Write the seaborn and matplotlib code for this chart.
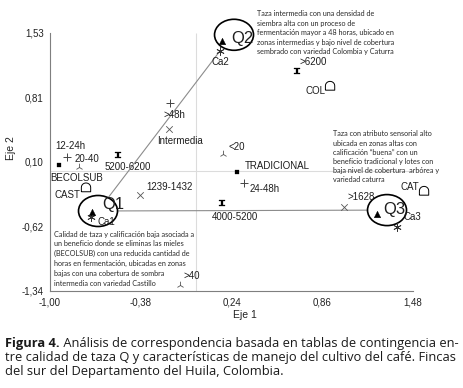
import numpy as np
import pandas as pd
import matplotlib
matplotlib.use("Agg")
import matplotlib.pyplot as plt
from matplotlib.path import Path
from matplotlib.patches import Ellipse
import seaborn as sns

# puntos del analisis de correspondencia
etiquetas = ["Q1", "Q2", "Q3", "Ca1", "Ca2", "Ca3",
             ">6200", "5200-6200", "4000-5200",
             "12-24h", ">48h", "24-48h",
             "Intermedia", "1239-1432", ">1628",
             "20-40", "<20", ">40",
             "BECOLSUB", "TRADICIONAL",
             "COL", "CAST", "CAT"]
eje1 = [-0.713, 0.175, 1.234, -0.72, 0.161, 1.37,
        0.687, -0.535, 0.175,
        -0.884, -0.18, 0.325,
        -0.187, -0.385, 1.008,
        -0.80, 0.182, -0.112,
        -0.94, 0.277,
        0.913, -0.754, 1.555]
eje2 = [-0.46, 1.44, -0.48, -0.52, 1.33, -0.63,
        1.107, 0.17, -0.36,
        0.15, 0.75, -0.14,
        0.46, -0.27, -0.406,
        0.04, 0.18, -1.27,
        0.06, -0.016,
        0.94, -0.19, -0.228]
tipo = ["calidad"] * 3 + ["altitud"] * 3 + ["densidad"] * 3 + ["fermentacion"] * 3 + \
       ["cobertura"] * 3 + ["edad"] * 3 + ["beneficio"] * 2 + ["variedad"] * 3

# grupos encerrados
grupos = ["Q1", "Q2", "Q3"]
grupo_x = [-0.672, 0.257, 1.302]
grupo_y = [-0.45, 1.51, -0.44]

xticks = [-1.00, -0.38, 0.24, 0.86, 1.48]
yticks = [-1.34, -0.62, 0.10, 0.81, 1.53]

notas = [
    ["Taza intermedia con una densidad de", "siembra alta con un proceso de",
     "fermentación mayor a 48 horas, ubicado en", "zonas intermedias y bajo nivel de cobertura",
     "sembrado con variedad Colombia y Caturra"],
    ["Taza con atributo sensorial alto", "ubicada en zonas altas con",
     "calificación “buena” con un", "beneficio tradicional y lotes con",
     "baja nivel de cobertura  arbórea y", "variedad caturra"],
    ["Calidad de taza y calificación baja asociada a", "un beneficio donde se eliminas las mieles",
     "(BECOLSUB) con una reducida cantidad de", "horas en fermentación, ubicadas en zonas",
     "bajas con una cobertura de sombra", "intermedia con variedad Castillo"],
]

df = pd.DataFrame({"etiqueta": etiquetas, "x": eje1, "y": eje2, "tipo": tipo})

sns.set_style("white")
plt.rcParams["font.family"] = ["Liberation Sans", "DejaVu Sans"]

# marcadores
reloj = Path([(-1, 1), (1, 1), (1, 0.6), (0.3, 0.6), (0.3, -0.6), (1, -0.6), (1, -1),
              (-1, -1), (-1, -0.6), (-0.3, -0.6), (-0.3, 0.6), (-1, 0.6), (-1, 1)])
ang = np.linspace(0, np.pi, 12)
casa = Path([(-0.9, -0.8), (0.9, -0.8)] + [(0.9 * np.cos(a), 0.05 + 0.85 * np.sin(a)) for a in ang]
            + [(-0.9, -0.8)])

estilos = {
    "calidad": dict(marker="^", s=22, color="black", edgecolor="black", linewidth=0.3),
    "altitud": dict(marker=(6, 2, 0), s=30, color="#333333", linewidth=0.6),
    "densidad": dict(marker=reloj, s=22, color="black", edgecolor="black", linewidth=0.2),
    "fermentacion": dict(marker="+", s=30, color="#444444", linewidth=0.7),
    "cobertura": dict(marker="x", s=22, color="#555555", linewidth=0.6),
    "edad": dict(marker="2", s=30, color="#555555", linewidth=0.6),
    "beneficio": dict(marker="s", s=12, color="black", edgecolor="black", linewidth=0.2),
    "variedad": dict(marker=casa, s=45, facecolor="none", edgecolor="black", linewidth=0.7),
}

# desplazamiento de cada etiqueta (pixeles) y alineacion
pos_etq = {
    "Q1": (10, 7, "left", 12), "Q2": (9, 3, "left", 12), "Q3": (6, 4, "left", 12),
    "Ca1": (7, -5, "left", 7), "Ca2": (-8, -11, "left", 7), "Ca3": (7, 10, "left", 7),
    ">6200": (3, 9, "left", 7), "5200-6200": (10, -12, "center", 7), "4000-5200": (13, -14, "center", 7),
    "12-24h": (-12, 11, "left", 7), ">48h": (-7, -12, "left", 7), "24-48h": (6, -6, "left", 7),
    "Intermedia": (11, -12, "center", 7), "1239-1432": (6, 8, "left", 7), ">1628": (4, 10, "left", 7),
    "20-40": (-5, 8, "left", 7), "<20": (5, 7, "left", 7), ">40": (3, 9, "left", 7),
    "BECOLSUB": (18, -13, "center", 7), "TRADICIONAL": (8, 6, "left", 7),
    "COL": (-5, -5, "right", 7), "CAST": (-6, -7, "right", 7), "CAT": (-5, 4, "right", 7),
}

fig = plt.figure(figsize=(4.64, 3.88), dpi=100)
ax = fig.add_axes([50 / 464, 97 / 388, 390 / 464, 286 / 388])
ax.set_xlim(-1.0, -1.0 + 390 / 146.4)
ax.set_ylim(-1.34, -1.34 + 286 / 89.9)

# lineas de referencia
ax.vlines(0, yticks[0], yticks[-1], color="#dcdcdc", linewidth=0.8, zorder=0)
ax.hlines(0, xticks[0], xticks[-1], color="#dcdcdc", linewidth=0.8, zorder=0)

# vectores entre grupos
g = dict(zip(grupos, zip(grupo_x, grupo_y)))
ca2 = df.loc[df.etiqueta == "Ca2", ["x", "y"]].values[0]
ax.plot([g["Q1"][0], ca2[0]], [g["Q1"][1], ca2[1]], color="#8c8c8c", linewidth=0.8, zorder=1)
ax.plot([g["Q1"][0], g["Q3"][0]], [g["Q1"][1], g["Q3"][1]], color="#8c8c8c", linewidth=0.8, zorder=1)

for nombre in grupos:
    cx, cy = g[nombre]
    ax.add_patch(Ellipse((cx, cy), 39 / 146.4, 31 / 89.9, facecolor="white",
                         edgecolor="black", linewidth=1.2, zorder=2))

for t, sub in df.groupby("tipo"):
    sns.scatterplot(data=sub, x="x", y="y", ax=ax, legend=False, zorder=3, **estilos[t])

for _, r in df.iterrows():
    dx, dy, ha, fs = pos_etq[r.etiqueta]
    ax.annotate(r.etiqueta, (r.x, r.y), xytext=(dx, dy), textcoords="offset pixels",
                ha=ha, va="center", fontsize=fs, color="#1e1e1e", zorder=4)

# notas explicativas, una linea por texto
nota_pos = [(257, 14, 9.4), (333, 134, 9.2), (54, 234, 9.8)]
for lineas, (px, py, paso) in zip(notas, nota_pos):
    for i, linea in enumerate(lineas):
        fig.text(px / 464, 1 - (py + i * paso) / 388, linea, fontsize=5.2,
                 family=["Lato", "DejaVu Sans"], color="#2a2a2a", va="center", ha="left")

sns.despine(ax=ax)
ax.spines["left"].set_bounds(yticks[0], yticks[-1])
ax.spines["bottom"].set_bounds(xticks[0], xticks[-1])
for s in ["left", "bottom"]:
    ax.spines[s].set_color("#7f7f7f")
    ax.spines[s].set_linewidth(0.8)
ax.set_xticks(xticks)
ax.set_yticks(yticks)
ax.set_xticklabels([f"{v:.2f}".replace(".", ",") for v in xticks])
ax.set_yticklabels([f"{v:.2f}".replace(".", ",") for v in yticks])
ax.tick_params(direction="out", length=3, width=0.8, color="#7f7f7f", labelsize=7,
               labelcolor="#222222", pad=1.5)
ax.set_xlabel("Eje 1", fontsize=7.5, color="#222222", labelpad=2)
ax.set_ylabel("Eje 2", fontsize=7.5, color="#222222", labelpad=4)

# pie de figura
cap_kw = dict(fontsize=9.3, family=["Open Sans", "DejaVu Sans"], color="#1a1a1a")
t0 = fig.text(5 / 464, 1 - 347 / 388, "Figura 4.", fontweight="bold", va="baseline", **cap_kw)
fig.canvas.draw()
ax.annotate(" Análisis de correspondencia basada en tablas de contingencia en-",
            xy=(1, 0), xycoords=t0, va="bottom", ha="left", annotation_clip=False, **cap_kw)
fig.text(5 / 464, 1 - 361 / 388, "tre calidad de taza Q y características de manejo del cultivo del café. Fincas",
         va="baseline", **cap_kw)
fig.text(5 / 464, 1 - 375 / 388, "del sur del Departamento del Huila, Colombia.", va="baseline", **cap_kw)

fig.savefig("out.png", dpi=100)
